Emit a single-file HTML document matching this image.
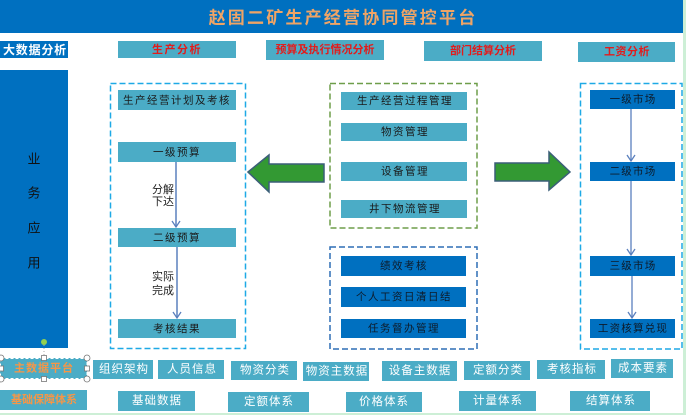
<!DOCTYPE html>
<html><head><meta charset="utf-8">
<style>
html,body{margin:0;padding:0;background:#fff;}
body{width:686px;height:415px;overflow:hidden;}
svg{display:block;font-family:"Liberation Sans","Noto Sans CJK SC","WenQuanYi Zen Hei",sans-serif;}
</style></head><body>
<svg width="686" height="415" viewBox="0 0 686 415" xmlns="http://www.w3.org/2000/svg">
<defs>
<marker id="ah" markerWidth="10" markerHeight="10" refX="8" refY="5" orient="auto" markerUnits="userSpaceOnUse">
<path d="M2,1 L8,5 L2,9" fill="none" stroke="#5B80BE" stroke-width="1.3"/>
</marker>
</defs>
<!-- edges -->
<rect x="683" y="0" width="3" height="415" fill="#CDEFD6"/>
<rect x="0" y="413" width="686" height="2" fill="#CDEFD6"/>
<!-- header -->
<rect x="0" y="0" width="683" height="33" fill="#0070C0"/>
<text x="343" y="18" text-anchor="middle" dominant-baseline="central" font-size="17" font-weight="bold" fill="#EFA466" letter-spacing="2.2">赵固二矿生产经营协同管控平台</text>

<!-- analysis row -->
<rect x="0" y="41" width="68" height="17" fill="#0070C0"/>
<text x="35" y="50" text-anchor="middle" dominant-baseline="central" font-size="12" font-weight="bold" fill="#fff" letter-spacing="0.8">大数据分析</text>
<rect x="118" y="41" width="118" height="17" fill="#4BACC6"/>
<text x="177" y="50" text-anchor="middle" dominant-baseline="central" font-size="11" font-weight="bold" fill="#E31B1B" letter-spacing="1.5">生产分析</text>
<rect x="266" y="40" width="118" height="20" fill="#4BACC6"/>
<text x="325" y="50" text-anchor="middle" dominant-baseline="central" font-size="11" font-weight="bold" fill="#E31B1B">预算及执行情况分析</text>
<rect x="424" y="41" width="118" height="20" fill="#4BACC6"/>
<text x="483" y="51" text-anchor="middle" dominant-baseline="central" font-size="11" font-weight="bold" fill="#E31B1B">部门结算分析</text>
<rect x="578" y="42" width="97" height="20" fill="#4BACC6"/>
<text x="627" y="52" text-anchor="middle" dominant-baseline="central" font-size="11" font-weight="bold" fill="#E31B1B" letter-spacing="0.5">工资分析</text>

<!-- left blue column -->
<rect x="0" y="70" width="68" height="278" fill="#0070C0"/>
<g font-size="13" fill="#111" text-anchor="middle" dominant-baseline="central">
<text x="34" y="159">业</text>
<text x="34" y="193">务</text>
<text x="34" y="228">应</text>
<text x="34" y="263">用</text>
</g>
<circle cx="44" cy="342" r="3" fill="#92D050"/>
<line x1="44" y1="345" x2="44" y2="357" stroke="#aaa" stroke-width="1" stroke-dasharray="1 2"/>

<!-- left dashed box -->
<rect x="110.5" y="83.5" width="135" height="265" fill="none" stroke="#1EA9E6" stroke-width="1.5" stroke-dasharray="6 3"/>
<g fill="#4BACC6">
<rect x="118" y="90" width="118" height="20"/>
<rect x="118" y="142" width="118" height="20"/>
<rect x="118" y="228" width="118" height="19"/>
<rect x="118" y="319" width="118" height="19"/>
</g>
<g font-size="10.5" fill="#1a1a1a" text-anchor="middle" dominant-baseline="central" letter-spacing="1.5">
<text x="177" y="100.5">生产经营计划及考核</text>
<text x="177" y="152.5">一级预算</text>
<text x="177" y="238">二级预算</text>
<text x="177" y="329">考核结果</text>
</g>
<line x1="176" y1="162" x2="176" y2="227" stroke="#5B80BE" stroke-width="1.5" marker-end="url(#ah)"/>
<line x1="177" y1="247" x2="177" y2="318" stroke="#5B80BE" stroke-width="1.5" marker-end="url(#ah)"/>
<g font-size="11" fill="#222" text-anchor="middle" dominant-baseline="central">
<text x="163" y="190">分解</text>
<text x="163" y="202">下达</text>
<text x="163" y="277">实际</text>
<text x="163" y="291">完成</text>
</g>

<!-- left green arrow -->
<path d="M248,172 L269,155 L269,164 L324,164 L324,182 L269,182 L269,192 Z" fill="#339933" stroke="#3B5F78" stroke-width="1.5" stroke-linejoin="miter"/>

<!-- middle green dashed box -->
<rect x="330" y="83.5" width="147" height="144.5" fill="none" stroke="#6E9E4A" stroke-width="1.5" stroke-dasharray="6 3"/>
<g fill="#4BACC6">
<rect x="341" y="92" width="126" height="18"/>
<rect x="341" y="123" width="126" height="18"/>
<rect x="341" y="162" width="126" height="19"/>
<rect x="341" y="200" width="126" height="18"/>
</g>
<g font-size="10.5" fill="#1a1a1a" text-anchor="middle" dominant-baseline="central" letter-spacing="1.5">
<text x="405" y="101">生产经营过程管理</text>
<text x="405" y="132">物资管理</text>
<text x="405" y="171.5">设备管理</text>
<text x="405" y="209">井下物流管理</text>
</g>

<!-- middle blue dashed box -->
<rect x="330" y="247" width="147" height="102" fill="none" stroke="#2E6FB6" stroke-width="1.5" stroke-dasharray="6 3"/>
<g fill="#0070C0">
<rect x="341" y="256" width="125" height="20"/>
<rect x="341" y="287" width="125" height="20"/>
<rect x="341" y="319" width="125" height="19"/>
</g>
<g font-size="10.5" fill="#0d1b2a" text-anchor="middle" dominant-baseline="central" letter-spacing="1.5">
<text x="404" y="266">绩效考核</text>
<text x="404" y="297">个人工资日清日结</text>
<text x="404" y="328.5">任务督办管理</text>
</g>

<!-- right green arrow -->
<path d="M495,163 L549,163 L549,152 L570,172 L549,190 L549,181 L495,181 Z" fill="#339933" stroke="#3B5F78" stroke-width="1.5"/>

<!-- right dashed box -->
<rect x="580.5" y="83.5" width="101.5" height="265.5" fill="none" stroke="#1EA9E6" stroke-width="1.5" stroke-dasharray="6 3"/>
<g fill="#0070C0">
<rect x="590" y="90" width="85" height="19"/>
<rect x="590" y="162" width="85" height="19"/>
<rect x="590" y="256" width="85" height="20"/>
<rect x="590" y="319" width="85" height="19"/>
</g>
<line x1="631" y1="109" x2="631" y2="161" stroke="#5B80BE" stroke-width="1.3" marker-end="url(#ah)"/>
<line x1="631" y1="181" x2="631" y2="255" stroke="#5B80BE" stroke-width="1.3" marker-end="url(#ah)"/>
<line x1="632" y1="276" x2="632" y2="318" stroke="#5B80BE" stroke-width="1.3" marker-end="url(#ah)"/>
<g font-size="10.5" fill="#0d1b2a" text-anchor="middle" dominant-baseline="central" letter-spacing="1.2">
<text x="633" y="99.5">一级市场</text>
<text x="633" y="171.5">二级市场</text>
<text x="633" y="266">三级市场</text>
<text x="633" y="328.5">工资核算兑现</text>
</g>

<!-- bottom row 1 -->
<rect x="0" y="358" width="87" height="21" fill="#4BACC6"/>
<rect x="0.5" y="358.5" width="86.5" height="20" fill="none" stroke="#fff" stroke-width="1" stroke-dasharray="3 2"/>
<text x="44" y="368.5" text-anchor="middle" dominant-baseline="central" font-size="11" font-weight="bold" fill="#F79646" letter-spacing="1">主数据平台</text>
<g fill="#fff" stroke="#777" stroke-width="0.8">
<circle cx="1" cy="358" r="3"/><circle cx="87" cy="358" r="3"/>
<circle cx="1" cy="379" r="3"/><circle cx="87" cy="379" r="3"/>
<rect x="41.5" y="355.5" width="5" height="5"/><rect x="41.5" y="376.5" width="5" height="5"/>
<rect x="-1.5" y="366" width="5" height="5"/><rect x="84.5" y="366" width="5" height="5"/>
</g>
<g fill="#4BACC6">
<rect x="93" y="360" width="60" height="19"/>
<rect x="158" y="360" width="66" height="19"/>
<rect x="231" y="361" width="66" height="19"/>
<rect x="303" y="362" width="66" height="19"/>
<rect x="382" y="361" width="75" height="20"/>
<rect x="464" y="361" width="66" height="19"/>
<rect x="537" y="360" width="68" height="19"/>
<rect x="611" y="359" width="62" height="19"/>
</g>
<g font-size="11.5" fill="#fff" text-anchor="middle" dominant-baseline="central" letter-spacing="1">
<text x="124" y="369.5">组织架构</text>
<text x="192" y="369.5">人员信息</text>
<text x="265" y="370.5">物资分类</text>
<text x="337" y="371.5">物资主数据</text>
<text x="420" y="371">设备主数据</text>
<text x="498" y="370.5">定额分类</text>
<text x="572" y="369.5">考核指标</text>
<text x="643" y="368.5">成本要素</text>
</g>

<!-- bottom row 2 -->
<rect x="0" y="390" width="87" height="20" fill="#4BACC6"/>
<text x="44" y="400" text-anchor="middle" dominant-baseline="central" font-size="11" font-weight="bold" fill="#F79646">基础保障体系</text>
<g fill="#4BACC6">
<rect x="118" y="391" width="77" height="20"/>
<rect x="228" y="392" width="81" height="20"/>
<rect x="346" y="392" width="76" height="20"/>
<rect x="459" y="391" width="77" height="20"/>
<rect x="570" y="391" width="80" height="20"/>
</g>
<g font-size="11.5" fill="#fff" text-anchor="middle" dominant-baseline="central" letter-spacing="1">
<text x="157" y="401">基础数据</text>
<text x="269" y="402">定额体系</text>
<text x="384" y="402">价格体系</text>
<text x="498" y="401">计量体系</text>
<text x="611" y="401">结算体系</text>
</g>
</svg>
</body></html>
